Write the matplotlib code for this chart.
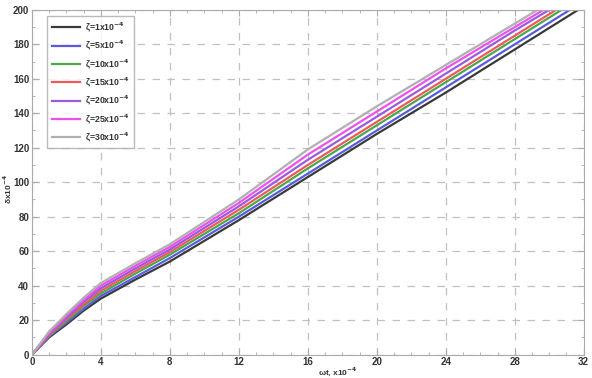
import numpy as np
import matplotlib
matplotlib.use("Agg")
import matplotlib.pyplot as plt
from matplotlib.ticker import MultipleLocator

plt.rcParams["font.family"] = ["Liberation Sans", "DejaVu Sans"]
plt.rcParams["font.weight"] = "bold"
plt.rcParams["mathtext.default"] = "bf"

# values
x = [0, 1, 2, 3, 4, 6, 8, 12, 16, 20, 24, 28, 32]
zeta_labels = ["1", "5", "10", "15", "20", "25", "30"]
delta_z1 = [0, 10, 17.5, 25.5, 32.5, 43.5, 54, 78, 103, 128, 152, 177, 202]
delta_z5 = [0, 10.5, 18.5, 26.5, 34, 45, 56, 80, 105, 130, 155, 180, 205]
delta_z10 = [0, 11, 19.5, 28, 35.5, 47, 58, 82, 108, 133, 158, 183, 208]
delta_z15 = [0, 11.5, 20.5, 29, 37, 48.5, 59.5, 84, 110, 135, 160, 185, 210]
delta_z20 = [0, 12, 21.5, 30.5, 38.5, 50, 61, 86, 113, 138, 163, 188, 212]
delta_z25 = [0, 12.5, 22.5, 31.5, 40, 51.5, 62.5, 88, 116, 141, 166, 190, 214]
delta_z30 = [0, 13.5, 23.5, 33, 41.5, 53, 64, 90, 119, 144, 168, 192, 216]

series = [delta_z1, delta_z5, delta_z10, delta_z15, delta_z20, delta_z25, delta_z30]
colors = ["#3a3a3a", "#5a5ae0", "#4aa84a", "#ee5a5a", "#9a5ae0", "#ee50ee", "#b0b0b0"]

fig = plt.figure(figsize=(5.92, 3.78), dpi=100)
ax = fig.add_axes([0.054, 0.062, 0.932, 0.912])

for ys, c, lab in zip(series, colors, zeta_labels):
    ax.plot(x, ys, color=c, lw=1.6, label="ζ=" + lab + "x10$^{-4}$")

ax.set_xlim(0, 32)
ax.set_ylim(0, 200)
ax.xaxis.set_major_locator(MultipleLocator(4))
ax.xaxis.set_minor_locator(MultipleLocator(1))
ax.yaxis.set_major_locator(MultipleLocator(20))
ax.yaxis.set_minor_locator(MultipleLocator(10))
ax.tick_params(which="both", direction="in", top=True, right=True,
               color="#aaaaaa", labelsize=7, labelcolor="#333333", pad=2)
ax.tick_params(which="major", length=4)
ax.tick_params(which="minor", length=2)
ax.grid(True, which="major", color="#c0c0c0", linestyle=(0, (6, 6)), lw=0.9)
for s in ax.spines.values():
    s.set_color("#aaaaaa")

fig.text(0.013, 0.5, "δx10$^{-4}$", fontsize=6, color="#333333",
         rotation=90, ha="center", va="center")
fig.text(0.57, 0.001, "ωt, x10$^{-4}$", fontsize=6, color="#333333",
         ha="center", va="bottom")

leg = ax.legend(loc="upper left", fontsize=6.3, frameon=True, fancybox=False,
                edgecolor="#aaaaaa", handlelength=3.2, labelspacing=0.55,
                borderpad=0.5, handletextpad=0.6, bbox_to_anchor=(0.02, 0.995))
for t in leg.get_texts():
    t.set_color("#333333")

fig.savefig("out.png", dpi=100)
